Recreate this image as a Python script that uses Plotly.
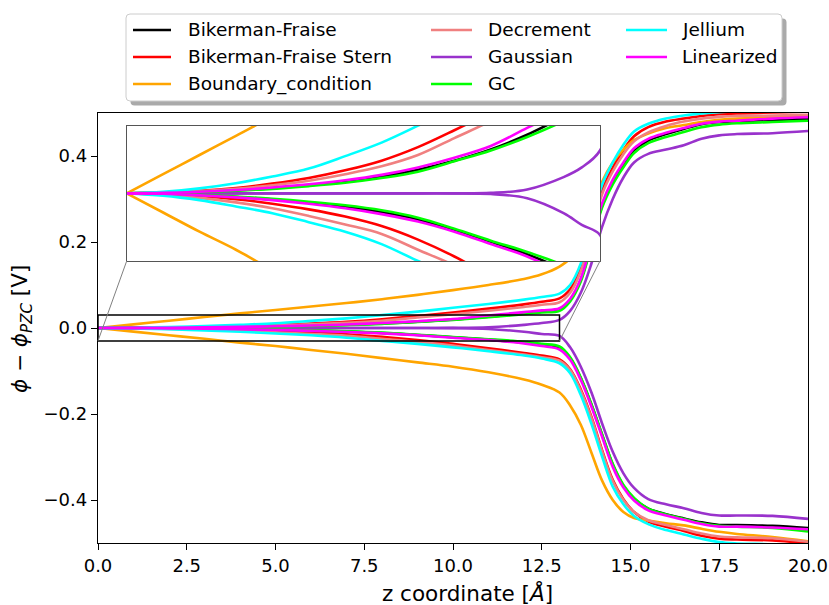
import plotly.graph_objects as go

# ---------------- data ----------------
z = [0, 1, 2, 3, 4, 5, 6, 7, 8, 9, 10, 11, 12, 12.5, 13, 13.3, 13.6, 13.9, 14.2, 14.5,
     14.8, 15.1, 15.5, 16, 16.5, 17, 17.5, 18, 19, 20]

names = ["Bikerman-Fraise", "Bikerman-Fraise Stern", "Boundary_condition", "Decrement",
         "Gaussian", "GC", "Jellium", "Linearized"]

bf_pos = [0, 0.0002, 0.0006, 0.0013, 0.0023, 0.0036, 0.0053, 0.0075, 0.0105, 0.0145, 0.0195, 0.026, 0.034, 0.038, 0.043,
          0.065, 0.112, 0.196, 0.285, 0.340, 0.380, 0.413, 0.436, 0.451, 0.463, 0.474, 0.479, 0.481, 0.484, 0.486]
bf_neg = [0, -0.0002, -0.0008, -0.0016, -0.0027, -0.0041, -0.0059, -0.0083, -0.0116, -0.0162, -0.0215, -0.027, -0.034, -0.039, -0.046,
          -0.070, -0.117, -0.179, -0.249, -0.318, -0.367, -0.397, -0.420, -0.433, -0.443, -0.452, -0.458, -0.458, -0.460, -0.465]
bfs_pos = [0, 0.0003, 0.0011, 0.0024, 0.0043, 0.0068, 0.0102, 0.0145, 0.0205, 0.028, 0.036, 0.045, 0.055, 0.061, 0.069,
           0.090, 0.140, 0.228, 0.320, 0.373, 0.414, 0.446, 0.467, 0.480, 0.487, 0.493, 0.497, 0.499, 0.501, 0.503]
bfs_neg = [0, -0.0003, -0.0012, -0.0026, -0.0046, -0.0071, -0.0103, -0.0145, -0.0205, -0.028, -0.037, -0.047, -0.058, -0.064, -0.073,
           -0.096, -0.143, -0.207, -0.284, -0.353, -0.398, -0.428, -0.450, -0.462, -0.472, -0.483, -0.490, -0.492, -0.494, -0.501]
bc_pos = [0, 0.0085, 0.017, 0.0255, 0.034, 0.042, 0.050, 0.058, 0.067, 0.077, 0.088, 0.100, 0.114, 0.125, 0.143,
          0.162, 0.205, 0.270, 0.340, 0.385, 0.415, 0.437, 0.452, 0.465, 0.472, 0.479, 0.484, 0.487, 0.490, 0.494]
bc_neg = [0, -0.0085, -0.017, -0.025, -0.034, -0.042, -0.051, -0.060, -0.070, -0.080, -0.090, -0.103, -0.120, -0.132, -0.150,
          -0.180, -0.225, -0.290, -0.355, -0.400, -0.428, -0.442, -0.448, -0.454, -0.459, -0.467, -0.474, -0.479, -0.486, -0.496]
dec_pos = [0, 0.0003, 0.001, 0.002, 0.0036, 0.0056, 0.0085, 0.012, 0.017, 0.0245, 0.032, 0.040, 0.049, 0.054, 0.060,
           0.082, 0.132, 0.220, 0.311, 0.364, 0.404, 0.434, 0.455, 0.470, 0.480, 0.487, 0.491, 0.493, 0.494, 0.496]
dec_neg = [0, -0.0006, -0.0020, -0.0040, -0.0066, -0.0100, -0.0138, -0.018, -0.025, -0.032, -0.041, -0.051, -0.062, -0.068, -0.076,
           -0.098, -0.146, -0.210, -0.287, -0.356, -0.400, -0.428, -0.447, -0.458, -0.468, -0.478, -0.485, -0.487, -0.489, -0.497]
gau_pos = [0, 0, 0, 0, 0, 0, 0, 0, 0, 0, 0.0002, 0.0017, 0.0072, 0.0115, 0.019,
           0.040, 0.082, 0.150, 0.235, 0.300, 0.350, 0.385, 0.405, 0.415, 0.425, 0.440, 0.448, 0.451, 0.453, 0.458]
gau_neg = [0, 0, 0, 0, 0, 0, 0, 0, 0, 0, -0.0003, -0.0022, -0.0088, -0.014, -0.0185,
           -0.045, -0.090, -0.150, -0.222, -0.288, -0.338, -0.372, -0.398, -0.410, -0.419, -0.430, -0.436, -0.436, -0.437, -0.444]
gc_pos = [0, 0.0002, 0.0006, 0.0012, 0.002, 0.0032, 0.0047, 0.0068, 0.0096, 0.0142, 0.019, 0.025, 0.032, 0.036, 0.040,
          0.062, 0.108, 0.192, 0.280, 0.334, 0.374, 0.407, 0.430, 0.444, 0.456, 0.467, 0.473, 0.476, 0.479, 0.482]
gc_neg = [0, -0.0002, -0.0007, -0.0014, -0.0024, -0.0037, -0.0053, -0.0075, -0.0108, -0.0157, -0.021, -0.026, -0.032, -0.037, -0.043,
          -0.068, -0.115, -0.177, -0.247, -0.316, -0.365, -0.395, -0.420, -0.434, -0.444, -0.454, -0.460, -0.462, -0.465, -0.473]
jel_pos = [0, 0.0007, 0.0022, 0.0045, 0.0075, 0.011, 0.0165, 0.0225, 0.030, 0.038, 0.047, 0.056, 0.066, 0.072, 0.080,
           0.100, 0.150, 0.240, 0.333, 0.385, 0.426, 0.457, 0.475, 0.487, 0.494, 0.499, 0.502, 0.504, 0.506, 0.508]
jel_neg = [0, -0.001, -0.003, -0.0058, -0.0088, -0.0128, -0.0170, -0.0225, -0.030, -0.037, -0.045, -0.054, -0.064, -0.071, -0.082,
           -0.105, -0.156, -0.223, -0.299, -0.369, -0.410, -0.437, -0.456, -0.470, -0.480, -0.490, -0.498, -0.501, -0.503, -0.507]
lin_pos = [0, 0.0002, 0.0007, 0.0015, 0.0026, 0.004, 0.0058, 0.0082, 0.0115, 0.0158, 0.021, 0.029, 0.037, 0.041, 0.046,
           0.068, 0.115, 0.200, 0.290, 0.345, 0.385, 0.418, 0.440, 0.454, 0.465, 0.475, 0.480, 0.482, 0.487, 0.490]
lin_neg = [0, -0.0002, -0.0009, -0.0018, -0.003, -0.0046, -0.0066, -0.0092, -0.0125, -0.017, -0.0225, -0.028, -0.036, -0.042, -0.050,
           -0.074, -0.121, -0.183, -0.253, -0.323, -0.371, -0.401, -0.424, -0.436, -0.446, -0.456, -0.462, -0.462, -0.464, -0.468]

pos_series = [bf_pos, bfs_pos, bc_pos, dec_pos, gau_pos, gc_pos, jel_pos, lin_pos]
neg_series = [bf_neg, bfs_neg, bc_neg, dec_neg, gau_neg, gc_neg, jel_neg, lin_neg]

x_ticks = [0, 2.5, 5, 7.5, 10, 12.5, 15, 17.5, 20]
x_ticktext = ["0.0", "2.5", "5.0", "7.5", "10.0", "12.5", "15.0", "17.5", "20.0"]
y_ticks = [-0.4, -0.2, 0.0, 0.2, 0.4]
y_ticktext = ["\u22120.4", "\u22120.2", "0.0", "0.2", "0.4"]

x_range = [0, 20]
y_range = [-0.5, 0.5]
zoom_x = [0, 13]
zoom_y = [-0.03, 0.03]

# ---------------- styles ----------------
colors = ["#000000", "#FF0000", "#FFA500", "#F08080", "#9932CC", "#00FF00", "#00FFFF", "#FF00FF"]
FONT = "DejaVu Sans"
TICK_FS = 18
LEG_FS = 18.5
LAB_FS = 21.5
LW = 2.6
W, H = 829, 605
L, R, T, B = 98, 21, 113, 62
PW, PH = W - L - R, H - T - B


def px2paper(px, py):
    return (px - L) / PW, (H - B - py) / PH


fig = go.Figure()

for i, name in enumerate(names):
    for ys in (pos_series[i], neg_series[i]):
        for xa, ya in (("x", "y"), ("x2", "y2")):
            fig.add_trace(go.Scatter(
                x=z, y=ys, mode="lines", name=name, showlegend=False,
                line=dict(color=colors[i], width=LW, shape="spline", smoothing=1.0),
                xaxis=xa, yaxis=ya, hoverinfo="skip"))

# inset domain
ix0, iy1 = px2paper(126.7, 125.7)
ix1, iy0 = px2paper(600, 261)

axis_common = dict(ticks="outside", ticklen=6, tickwidth=1.3, tickcolor="black",
                   showline=True, linecolor="black", linewidth=1.3, mirror=True,
                   showgrid=False, zeroline=False, tickfont=dict(size=TICK_FS),
                   automargin=False)

fig.update_layout(
    width=W, height=H, autosize=False,
    margin=dict(l=L, r=R, t=T, b=B, pad=0, autoexpand=False),
    paper_bgcolor="white", plot_bgcolor="white",
    font=dict(family=FONT, size=TICK_FS, color="black"),
    showlegend=False,
    xaxis=dict(domain=[0, 1], range=x_range, tickvals=x_ticks, ticktext=x_ticktext, **axis_common),
    yaxis=dict(domain=[0, 1], range=y_range, tickvals=y_ticks, ticktext=y_ticktext, **axis_common),
    xaxis2=dict(domain=[ix0, ix1], range=zoom_x, anchor="y2", showticklabels=False,
                ticks="", showline=True, linecolor="#555555", linewidth=1.2, mirror=True,
                showgrid=False, zeroline=False, automargin=False),
    yaxis2=dict(domain=[iy0, iy1], range=zoom_y, anchor="x2", showticklabels=False,
                ticks="", showline=True, linecolor="#555555", linewidth=1.2, mirror=True,
                showgrid=False, zeroline=False, automargin=False),
)

shapes = []
# zoom rectangle on main axes
shapes.append(dict(type="rect", xref="x", yref="y", x0=zoom_x[0], x1=zoom_x[1],
                   y0=zoom_y[0], y1=zoom_y[1], line=dict(color="black", width=1.5),
                   fillcolor="rgba(0,0,0,0)", layer="above"))


def data2paper(xv, yv):
    return ((xv - x_range[0]) / (x_range[1] - x_range[0]),
            (yv - y_range[0]) / (y_range[1] - y_range[0]))


# connector lines (inset lower corners -> rectangle lower corners)
for (cx, cy), ipx in (((zoom_x[0], zoom_y[0]), ix0), ((zoom_x[1], zoom_y[0]), ix1)):
    px_, py_ = data2paper(cx, cy)
    shapes.append(dict(type="line", xref="paper", yref="paper", x0=ipx, y0=iy0,
                       x1=px_, y1=py_, line=dict(color="#808080", width=1), layer="above"))


# legend box with shadow
def rounded(px0, py0, px1, py1, r=4):
    a0, b1 = px2paper(px0, py0)
    a1, b0 = px2paper(px1, py1)
    rx, ry = r / PW, r / PH
    return (f"M {a0+rx},{b1} L {a1-rx},{b1} Q {a1},{b1} {a1},{b1-ry} "
            f"L {a1},{b0+ry} Q {a1},{b0} {a1-rx},{b0} L {a0+rx},{b0} "
            f"Q {a0},{b0} {a0},{b0+ry} L {a0},{b1-ry} Q {a0},{b1} {a0+rx},{b1} Z")


shapes.append(dict(type="path", xref="paper", yref="paper", path=rounded(130.5, 18.5, 786.5, 105.5),
                   fillcolor="#aaaaaa", line=dict(width=0), layer="above"))
shapes.append(dict(type="path", xref="paper", yref="paper", path=rounded(126, 14, 782, 101),
                   fillcolor="white", line=dict(color="#cccccc", width=1), layer="above"))

annotations = []
col_line_x = [(133, 171), (431, 472), (626, 667)]
col_text_x = [186, 486, 680]
row_y = [30, 57, 84]
for i, name in enumerate(names):
    c, r_ = divmod(i, 3)
    lx0, ly = px2paper(col_line_x[c][0], row_y[r_])
    lx1, _ = px2paper(col_line_x[c][1], row_y[r_])
    shapes.append(dict(type="line", xref="paper", yref="paper", x0=lx0, x1=lx1, y0=ly, y1=ly,
                       line=dict(color=colors[i], width=LW), layer="above"))
    tx, ty = px2paper(col_text_x[c], row_y[r_])
    annotations.append(dict(xref="paper", yref="paper", x=tx, y=ty, xanchor="left", yanchor="middle",
                            text=name, showarrow=False, font=dict(size=LEG_FS)))

# axis labels
xlx, xly = px2paper(467, 593)
annotations.append(dict(xref="paper", yref="paper", x=xlx, y=xly, xanchor="center", yanchor="middle",
                        text="z coordinate [<i>Å</i>]", showarrow=False, font=dict(size=LAB_FS)))
ylx, yly = px2paper(21, 329)
annotations.append(dict(xref="paper", yref="paper", x=ylx, y=yly, xanchor="center", yanchor="middle",
                        text="<i>ϕ</i> − <i>ϕ</i><sub><i>PZC</i></sub> [V]", textangle=-90,
                        showarrow=False, font=dict(size=LAB_FS)))

fig.update_layout(shapes=shapes, annotations=annotations)
page_js = ("var s=document.createElement('style');"
           "s.textContent='html,body{margin:0;padding:0;width:829px;height:605px;overflow:hidden;}';"
           "document.head.appendChild(s);")
fig.write_html("out.html", config={"displayModeBar": False, "responsive": False},
               post_script=page_js)
